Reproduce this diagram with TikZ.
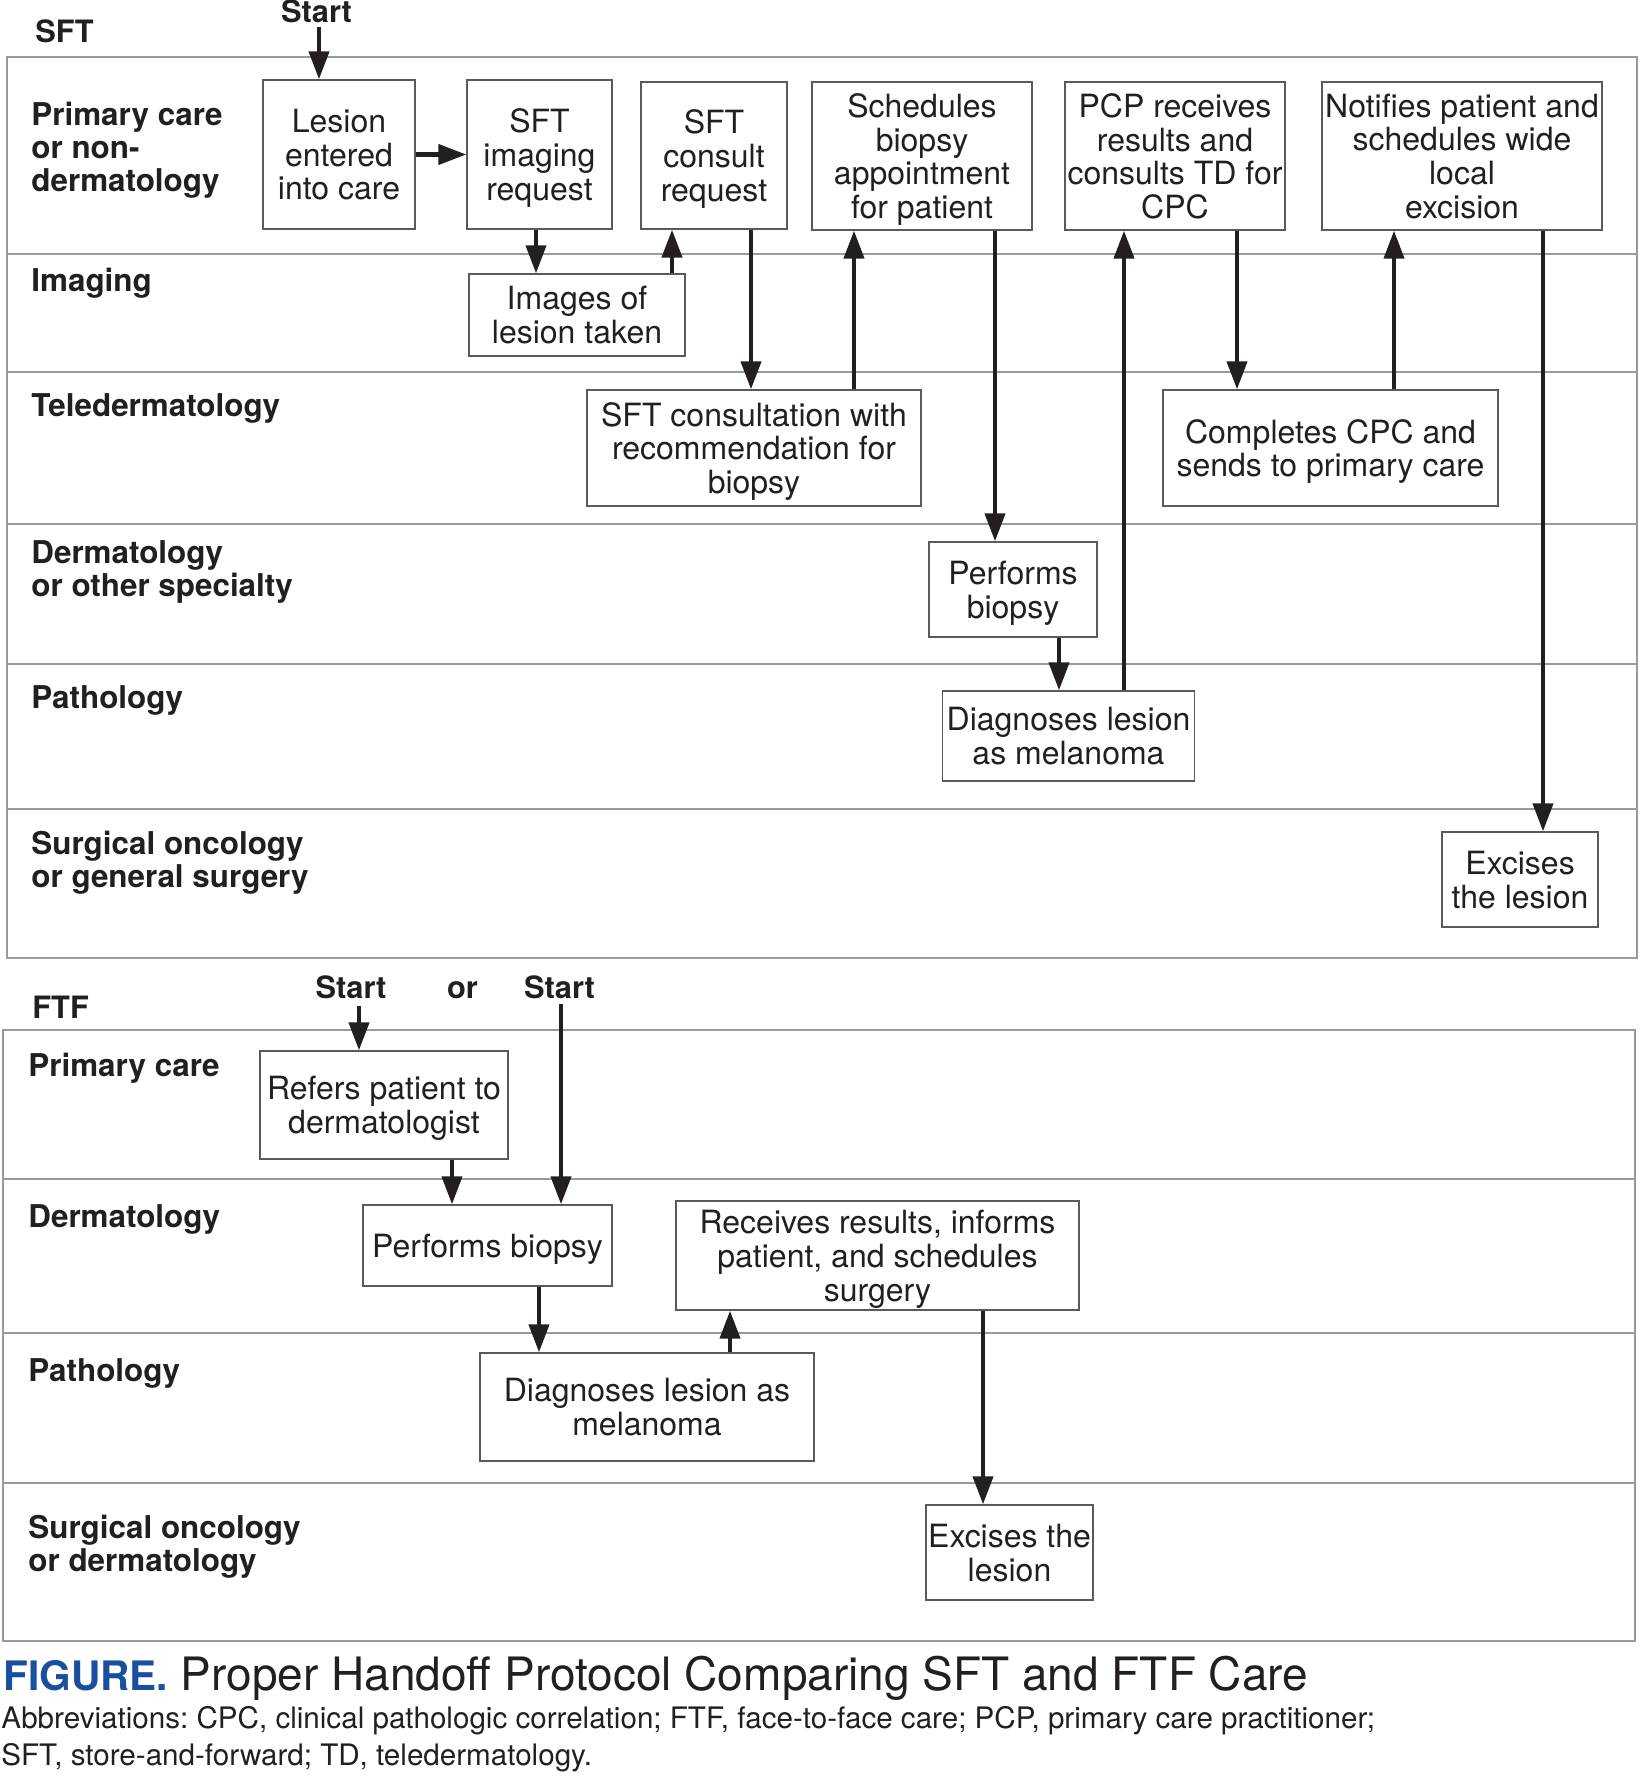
\documentclass[tikz,border=0pt]{standalone}
\usepackage{fontspec}
\setmainfont{TeX Gyre Heros}
\usetikzlibrary{arrows.meta,positioning}
\definecolor{inkdark}{HTML}{231F20}
\definecolor{lanegray}{HTML}{9A9A9A}
\definecolor{boxgray}{HTML}{5A5A5A}
\definecolor{figblue}{HTML}{1A4FA0}
\tikzset{
  box/.style={draw=boxgray, line width=0.7pt, fill=white, align=center, inner sep=0pt, text depth=0pt, text=inkdark, font=\fontsize{16}{16.9}\selectfont},
  lanelabel/.style={anchor=north west, inner sep=0pt, align=left, text=inkdark, font=\fontsize{15.7}{16.5}\selectfont\bfseries},
  heading/.style={anchor=base, inner sep=0pt, text=inkdark, font=\fontsize{15.4}{16.5}\selectfont\bfseries},
  panel/.style={draw=lanegray, line width=1pt},
  laneline/.style={draw=lanegray, line width=0.9pt},
  captiontitle/.style={anchor=base west, inner sep=0pt, text=inkdark, font=\fontsize{23}{26}\selectfont},
  captionnote/.style={anchor=north west, inner sep=0pt, align=left, text=inkdark, font=\fontsize{14.8}{18.5}\selectfont\frenchspacing},
  arrow/.style={-{Triangle[length=14pt,width=10pt]}, line width=2.1pt, draw=inkdark}
}

\begin{document}
\begin{tikzpicture}[x=0.5pt, y=-0.5pt]
  \useasboundingbox (0,0) rectangle (1645,1782);

  % SFT
  \draw[panel] (7,57) rectangle (1637,958);
  \foreach \y in {254,372,524,664,809} \draw[laneline] (7,\y) -- (1637,\y);
  \node[heading, anchor=base west] (sfttitle) at (35,43) {SFT};
  \node[heading] (sftstart) at (316.5,23) {Start};
  \coordinate (sftentry) at (319,27);

  \node[lanelabel] (sftprimary) at (31,102) {Primary care\\or non-\\dermatology};
  \node[lanelabel] (sftimaging) at (31,268) {Imaging};
  \node[lanelabel] (sfttele) at (31,393) {Teledermatology};
  \node[lanelabel] (sftderm) at (31,540) {Dermatology\\or other specialty};
  \node[lanelabel] (sftpath) at (31,685) {Pathology};
  \node[lanelabel] (sftsurg) at (31,831) {Surgical oncology\\or general surgery};

  \node[box, minimum width=76pt, minimum height=74.5pt] (lesion) at (339,154.5) {Lesion\\entered\\into care};
  \node[box, minimum width=72.5pt, minimum height=74.5pt] (imgreq) at (539.5,154.5) {SFT\\imaging\\request};
  \node[box, minimum width=73pt, minimum height=73.5pt] (consreq) at (714,155.5) {SFT\\consult\\request};
  \node[box, minimum width=110pt, minimum height=74pt] (schedule) at (922,156) {Schedules\\biopsy\\appointment\\for patient};
  \node[box, minimum width=110pt, minimum height=74pt] (pcpresults) at (1175,156) {PCP receives\\results and\\consults TD for\\CPC};
  \node[box, minimum width=140pt, minimum height=74pt] (notify) at (1462,156) {Notifies patient and\\schedules wide\\local\\excision};
  \node[box, minimum width=108pt, minimum height=41pt] (images) at (577,315) {Images of\\lesion taken};
  \node[box, minimum width=167pt, minimum height=58pt] (teleconsult) at (754,448) {SFT consultation with\\recommendation for\\biopsy};
  \node[box, minimum width=167.5pt, minimum height=58pt] (completes) at (1330.5,448) {Completes CPC and\\sends to primary care};
  \node[box, minimum width=84pt, minimum height=47.5pt] (biopsy) at (1013,589.5) {Performs\\biopsy};
  \node[box, minimum width=126pt, minimum height=45pt] (diagnose) at (1068.5,736) {Diagnoses lesion\\as melanoma};
  \node[box, minimum width=78pt, minimum height=47.5pt] (excise) at (1520,879.5) {Excises\\the lesion};

  \draw[arrow] (sftentry) -- (sftentry |- lesion.north);
  \draw[arrow] (lesion) -- (imgreq);
  \draw[arrow] (imgreq.south -| 536,0) -- (images.north -| 536,0);
  \draw[arrow] (images.north -| 672,0) -- (consreq.south -| 672,0);
  \draw[arrow] (consreq.south -| 751,0) -- (teleconsult.north -| 751,0);
  \draw[arrow] (teleconsult.north -| 854,0) -- (schedule.south -| 854,0);
  \draw[arrow] (schedule.south -| 995,0) -- (biopsy.north -| 995,0);
  \draw[arrow] (biopsy.south -| 1059,0) -- (diagnose.north -| 1059,0);
  \draw[arrow] (diagnose.north -| 1124,0) -- (pcpresults.south -| 1124,0);
  \draw[arrow] (pcpresults.south -| 1237,0) -- (completes.north -| 1237,0);
  \draw[arrow] (completes.north -| 1394,0) -- (notify.south -| 1394,0);
  \draw[arrow] (notify.south -| 1543,0) -- (excise.north -| 1543,0);

  % FTF
  \draw[panel] (3,1030) rectangle (1635,1641);
  \foreach \y in {1179,1333,1483} \draw[laneline] (3,\y) -- (1635,\y);
  \node[heading, anchor=base west] (ftftitle) at (32,1018) {FTF};
  \node[heading] (ftfstartA) at (351,998) {Start};
  \node[heading] (ftfor) at (462.5,998) {or};
  \node[heading] (ftfstartB) at (559.5,998) {Start};
  \coordinate (ftfentryA) at (359,1006);
  \coordinate (ftfentryB) at (561,1004);

  \node[lanelabel] (ftfprimary) at (28,1053) {Primary care};
  \node[lanelabel] (ftfderm) at (28,1204) {Dermatology};
  \node[lanelabel] (ftfpath) at (28,1358) {Pathology};
  \node[lanelabel] (ftfsurg) at (28,1515) {Surgical oncology\\or dermatology};

  \node[box, minimum width=124pt, minimum height=54pt] (refer) at (384,1105) {Refers patient to\\dermatologist};
  \node[box, minimum width=124.5pt, minimum height=40.5pt] (biopsyftf) at (487.5,1245.5) {Performs biopsy};
  \node[box, minimum width=201.5pt, minimum height=54.5pt] (receives) at (877.5,1255.5) {Receives results, informs\\patient, and schedules\\surgery};
  \node[box, minimum width=167pt, minimum height=54pt] (diagftf) at (647,1407) {Diagnoses lesion as\\melanoma};
  \node[box, minimum width=83.5pt, minimum height=47.5pt] (exciseftf) at (1009.5,1552.5) {Excises the\\lesion};

  \draw[arrow] (ftfentryA) -- (ftfentryA |- refer.north);
  \draw[arrow] (ftfentryB) -- (ftfentryB |- biopsyftf.north);
  \draw[arrow] (refer.south -| 452,0) -- (biopsyftf.north -| 452,0);
  \draw[arrow] (biopsyftf.south -| 539,0) -- (diagftf.north -| 539,0);
  \draw[arrow] (diagftf.north -| 730,0) -- (receives.south -| 730,0);
  \draw[arrow] (receives.south -| 983,0) -- (exciseftf.north -| 983,0);

  % caption
  \node[captiontitle] (figtitle) at (3,1690) {{\color{figblue}\bfseries\fontsize{20.3}{26}\selectfont FIGURE.} Proper Handoff Protocol Comparing SFT and FTF Care};
  \node[captionnote] (abbrev) at (1,1706) {Abbreviations: CPC, clinical pathologic correlation; FTF, face-to-face care; PCP, primary care practitioner;\\SFT, store-and-forward; TD, teledermatology.};
\end{tikzpicture}
\end{document}
